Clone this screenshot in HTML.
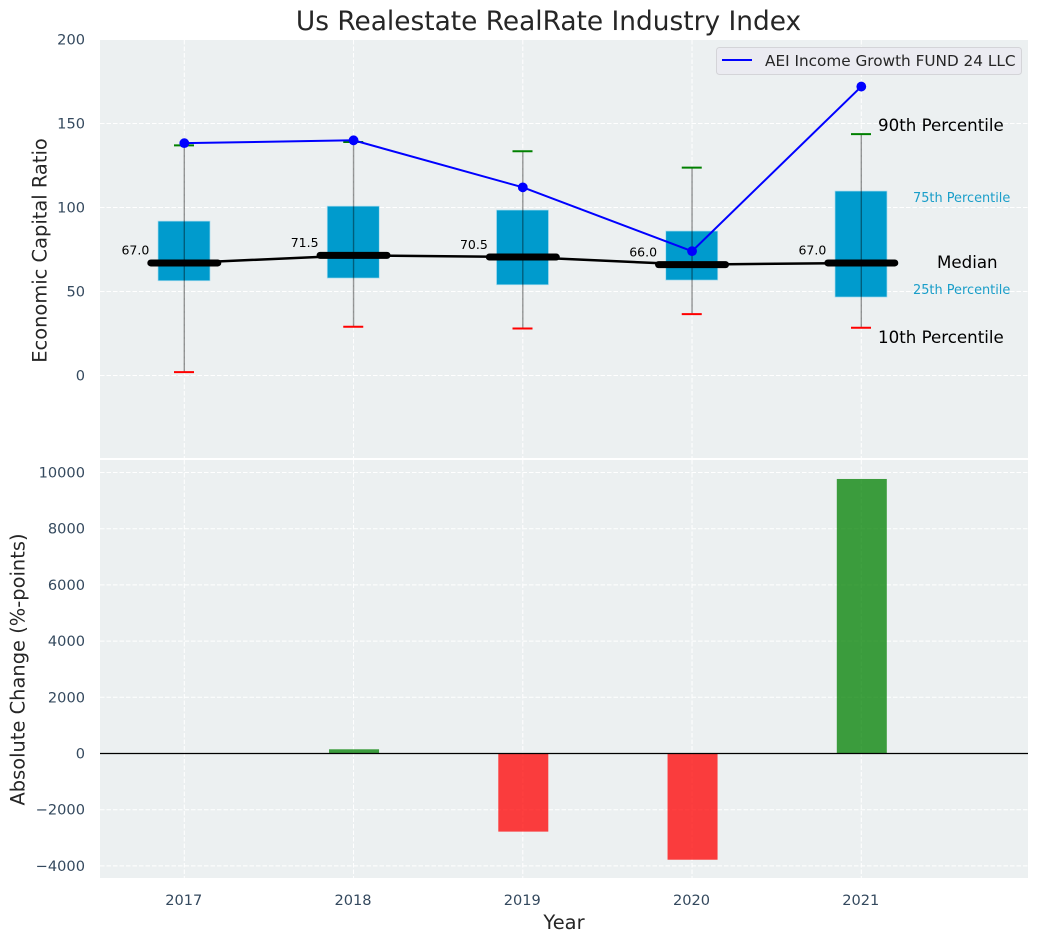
<!DOCTYPE html>
<html lang="en">
<head>
<meta charset="utf-8">
<title>Us Realestate RealRate Industry Index</title>
<style>
html,body{margin:0;padding:0;background:#fff;width:1039px;height:942px;overflow:hidden}
svg{display:block}
text{font-family:"DejaVu Sans","Liberation Sans",sans-serif}
</style>
</head>
<body>
<svg id="chart" xmlns="http://www.w3.org/2000/svg" width="1039" height="942" viewBox="0 0 1039 942">
  <rect x="100" y="40" width="928" height="418" fill="#ecf0f1"/>
  <rect x="100" y="460" width="928" height="418" fill="#ecf0f1"/>
  <g id="gridTop"></g>
  <g id="gridBottom"></g>
  <g id="marksBottom"></g>
  <g id="marksTop"></g>
  <g id="ticks"></g>
  <text x="548.5" y="30" text-anchor="middle" font-size="26.4" fill="#262626">Us Realestate RealRate Industry Index</text>
  <text transform="translate(46.5,250.5) rotate(-90)" text-anchor="middle" font-size="19.44" fill="#262626">Economic Capital Ratio</text>
  <text transform="translate(24.5,669.5) rotate(-90)" text-anchor="middle" font-size="19.44" fill="#262626">Absolute Change (%-points)</text>
  <text x="564" y="929" text-anchor="middle" font-size="19.44" fill="#262626">Year</text>
  <text x="878" y="131" font-size="16.67" fill="#000">90th Percentile</text>
  <text x="913" y="202" font-size="12.9" fill="#1a9ec9">75th Percentile</text>
  <text x="937" y="268" font-size="16.67" fill="#000">Median</text>
  <text x="913" y="294" font-size="12.9" fill="#1a9ec9">25th Percentile</text>
  <text x="878" y="343" font-size="16.67" fill="#000">10th Percentile</text>
  <g>
    <rect x="716.5" y="47.5" width="305" height="27" rx="3" fill="#ebebf1" stroke="#d4d4d8" stroke-width="1"/>
    <line x1="722" y1="60" x2="752" y2="60" stroke="#0000ff" stroke-width="2"/>
    <text x="765" y="66" font-size="15.28" fill="#262626">AEI Income Growth FUND 24 LLC</text>
  </g>
</svg>
<script>
const years = [2017, 2018, 2019, 2020, 2021];
const p10 = [2, 29, 28, 36.5, 28.4];
const p25 = [56.4, 58, 54, 56.8, 46.7];
const medians = [67, 71.5, 70.5, 66, 67];
const p75 = [91.9, 100.8, 98.5, 86, 109.8];
const p90 = [137, 139, 133.5, 123.7, 143.7];
const fundValues = [138.3, 140, 112, 74, 172];
const changes = [0, 150, -2780, -3780, 9770];
const topTicks = [0, 50, 100, 150, 200];
const bottomTicks = [-4000, -2000, 0, 2000, 4000, 6000, 8000, 10000];

const NS = 'http://www.w3.org/2000/svg';
function xPos(year) { return 184.3 + (year - 2017) * 169.25; }
function yTop(v) { return 375.5 - v * 1.68; }
function yBottom(v) { return 753.5 - v * 0.0281; }
function make(parent, tag, attrs) {
  const el = document.createElementNS(NS, tag);
  Object.keys(attrs).forEach(function (k) { el.setAttribute(k, attrs[k]); });
  parent.appendChild(el);
  return el;
}
const gridTop = document.getElementById('gridTop');
const gridBottom = document.getElementById('gridBottom');
const marksTop = document.getElementById('marksTop');
const marksBottom = document.getElementById('marksBottom');
const ticks = document.getElementById('ticks');
const gridStyle = { stroke: '#ffffff', 'stroke-width': 1, 'stroke-dasharray': '4.5,2' };
const tickFont = 14.58;

topTicks.forEach(function (t) {
  const line = make(gridTop, 'line', Object.assign({ x1: 100, x2: 1028, y1: yTop(t), y2: yTop(t) }, gridStyle));
  
  
  const label = make(ticks, 'text', { x: 85, y: yTop(t) + 5, 'text-anchor': 'end', 'font-size': tickFont, fill: '#34495e' });
  label.textContent = String(t);
  
  
});
bottomTicks.forEach(function (t) {
  const line = make(gridBottom, 'line', Object.assign({ x1: 100, x2: 1028, y1: yBottom(t), y2: yBottom(t) }, gridStyle));
  
  
  const label = make(ticks, 'text', { x: 85, y: yBottom(t) + 5, 'text-anchor': 'end', 'font-size': tickFont, fill: '#34495e' });
  label.textContent = String(t).replace('-', '\u2212');
  
  
});
years.forEach(function (y) {
  const a = make(gridTop, 'line', Object.assign({ x1: xPos(y), x2: xPos(y), y1: 40, y2: 458 }, gridStyle));
  
  
  const b = make(gridBottom, 'line', Object.assign({ x1: xPos(y), x2: xPos(y), y1: 460, y2: 878 }, gridStyle));
  
  
  const label = make(ticks, 'text', { x: xPos(y) - 0.5, y: 905, 'text-anchor': 'middle', 'font-size': tickFont, fill: '#34495e' });
  label.textContent = String(y);
  
  
});

/* bottom bars */
changes.forEach(function (v, i) {
  if (v === 0) return;
  const y0 = yBottom(0), y1 = yBottom(v);
  const bar = make(marksBottom, 'rect', {
    x: xPos(years[i]) - 24.5, width: 50, y: Math.min(y0, y1), height: Math.abs(y1 - y0),
    fill: v > 0 ? '#008000' : '#ff0000', 'fill-opacity': 0.75
  });
  
  
});
const zero = make(marksBottom, 'line', { x1: 100, x2: 1028, y1: yBottom(0), y2: yBottom(0), stroke: '#000', 'stroke-width': 1.3 });



/* top boxes */
years.forEach(function (y, i) {
  const cx = xPos(y);
  const box = make(marksTop, 'rect', {
    x: cx - 26.3, width: 52, y: yTop(p75[i]), height: yTop(p25[i]) - yTop(p75[i]),
    fill: '#009bcd', stroke: '#a9dcee', 'stroke-width': 0.7
  });
  
  
});
years.forEach(function (y, i) {
  const cx = xPos(y);
  const whisker = make(marksTop, 'line', { x1: cx, x2: cx, y1: yTop(p90[i]), y2: yTop(p10[i]), stroke: '#000', 'stroke-opacity': 0.4, 'stroke-width': 1.4 });
  
  
  const capHigh = make(marksTop, 'line', { x1: cx - 10.3, x2: cx + 9.7, y1: yTop(p90[i]), y2: yTop(p90[i]), stroke: '#008000', 'stroke-width': 2 });
  
  
  const capLow = make(marksTop, 'line', { x1: cx - 10.3, x2: cx + 9.7, y1: yTop(p10[i]), y2: yTop(p10[i]), stroke: '#ff0000', 'stroke-width': 2 });
  
  
});
const medianTrend = make(marksTop, 'polyline', {
  points: years.map(function (y, i) { return xPos(y) + ',' + yTop(medians[i]); }).join(' '),
  fill: 'none', stroke: '#000', 'stroke-width': 2.5
});


years.forEach(function (y, i) {
  const cx = xPos(y);
  const m = make(marksTop, 'line', { x1: cx - 33.5, x2: cx + 33.5, y1: yTop(medians[i]), y2: yTop(medians[i]), stroke: '#000', 'stroke-width': 7, 'stroke-linecap': 'round' });
  
  
  const label = make(marksTop, 'text', { x: cx - 35, y: yTop(medians[i]) - 8.2, 'text-anchor': 'end', 'font-size': 12.5, fill: '#000' });
  label.textContent = medians[i].toFixed(1);
  
  
});
const fundLine = make(marksTop, 'polyline', {
  points: years.map(function (y, i) { return xPos(y) + ',' + yTop(fundValues[i]); }).join(' '),
  fill: 'none', stroke: '#0000ff', 'stroke-width': 2
});


years.forEach(function (y, i) {
  const dot = make(marksTop, 'circle', { cx: xPos(y), cy: yTop(fundValues[i]), r: 4.9, fill: '#0000ff' });
  
  
});
</script>
</body>
</html>
